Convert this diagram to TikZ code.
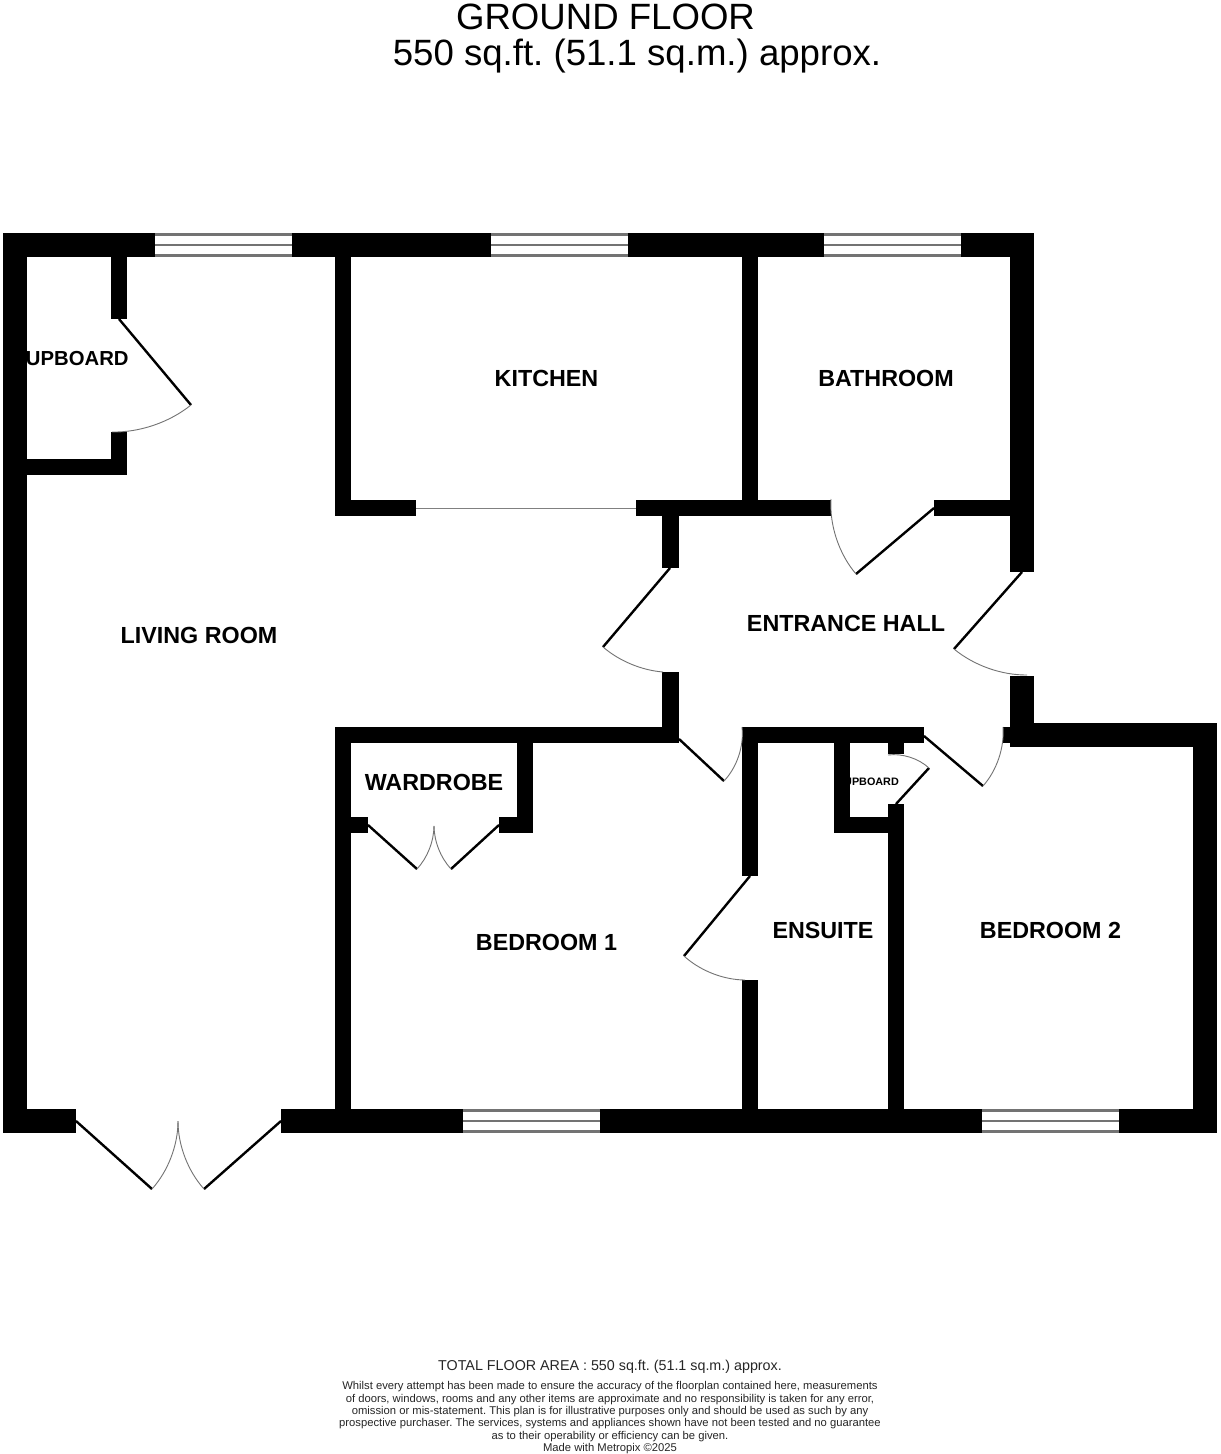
\documentclass[tikz,border=0pt]{standalone}
\usepackage{fontspec}
\setmainfont{Liberation Sans}
\frenchspacing
\tikzset{
  room/.style={inner sep=0pt,anchor=base,font=\fontsize{23.3}{23.2}\selectfont\bfseries,text=black},
  closetroom/.style={inner sep=0pt,anchor=base east,font=\fontsize{20.3}{20}\selectfont\bfseries,text=black},
  smallroom/.style={inner sep=0pt,anchor=base east,font=\fontsize{10.8}{11}\selectfont\bfseries,text=black},
  titletext/.style={inner sep=0pt,anchor=base,font=\fontsize{36.6}{37}\selectfont,text=black},
  areatext/.style={inner sep=0pt,anchor=base,font=\fontsize{14.3}{15}\selectfont,text=black!85},
  finetext/.style={inner sep=0pt,anchor=base,font=\fontsize{11.25}{12}\selectfont,text=black!85},
  wall/.style={fill=black,draw=none},
  leaf/.style={draw=black,line width=2.4pt},
  swing/.style={draw=black!55,line width=0.9pt,looseness=0.85},
  pane/.style={draw=black!55,line width=2.6pt},
  sliding/.style={draw=black!50,line width=1pt}
}
\newcommand{\wallrect}[4]{\fill[wall] (#1,#2) rectangle (#3,#4);}
\newcommand{\glazing}[2]{%
  \fill[white] (#1,233) rectangle (#2,257);
  \draw[pane] (#1,234.3) -- (#2,234.3) (#1,245) -- (#2,245) (#1,255.7) -- (#2,255.7);}
\newcommand{\glazingb}[2]{%
  \fill[white] (#1,1109) rectangle (#2,1133);
  \draw[pane] (#1,1110.3) -- (#2,1110.3) (#1,1121) -- (#2,1121) (#1,1131.7) -- (#2,1131.7);}
\begin{document}
\begin{tikzpicture}[x=1pt,y=-1pt]
\useasboundingbox (0,0) rectangle (1221,1454);
\fill[white] (0,0) rectangle (1221,1454);
% titles
\node[titletext] (title1) at (605.5,29) {GROUND FLOOR};
\node[titletext] (title2) at (637,65) {550 sq.ft. (51.1 sq.m.) approx.};
% room labels (under the walls, which clip them as in the plan)
\node[room] (living) at (199,643) {LIVING ROOM};
\node[room] (kitchen) at (546.5,386) {KITCHEN};
\node[room] (bathroom) at (886,386) {BATHROOM};
\node[closetroom] (cupboard) at (128.8,365) {CUPBOARD};
\node[room] (hall) at (846,631) {ENTRANCE HALL};
\node[room] (wardrobe) at (434,790) {WARDROBE};
\node[room] (bed1) at (546.5,950) {BEDROOM 1};
\node[room] (ensuite) at (823,938) {ENSUITE};
\node[room] (bed2) at (1050.5,938) {BEDROOM 2};
\node[smallroom] (cupboard2) at (899,785) {CUPBOARD};
% walls
\wallrect{3}{233}{1034}{257}
\wallrect{3}{233}{27}{1133}
\wallrect{111}{257}{127}{319}
\wallrect{111}{432}{127}{475}
\wallrect{27}{459}{127}{475}
\wallrect{335}{257}{351}{516}
\wallrect{335}{500}{416}{516}
\wallrect{636}{500}{831}{516}
\wallrect{742}{257}{758}{516}
\wallrect{934}{500}{1034}{516}
\wallrect{1010}{233}{1034}{572}
\wallrect{1010}{676}{1034}{747}
\wallrect{1003}{727}{1034}{743}
\wallrect{1010}{723}{1217}{747}
\wallrect{1193}{723}{1217}{1133}
\wallrect{662}{516}{679}{568}
\wallrect{662}{672}{679}{743}
\wallrect{335}{727}{679}{743}
\wallrect{335}{727}{351}{1133}
\wallrect{742}{727}{924}{743}
\wallrect{742}{727}{758}{876}
\wallrect{742}{980}{758}{1133}
\wallrect{834}{743}{850}{833}
\wallrect{834}{817}{904}{833}
\wallrect{888}{743}{904}{754}
\wallrect{888}{804}{904}{1133}
\wallrect{517}{743}{533}{833}
\wallrect{499}{817}{533}{833}
\wallrect{351}{817}{368}{833}
\wallrect{3}{1109}{76}{1133}
\wallrect{281}{1109}{1217}{1133}
% windows
\glazing{155}{292}
\glazing{491}{628}
\glazing{824}{961}
\glazingb{463}{600}
\glazingb{982}{1119}
% sliding opening
\draw[sliding] (416,508) -- (636,508);
% doors
\draw[leaf] (119,319) -- (191,405);
\draw[swing] (191,405) to[bend left=20] (112,432);
\draw[leaf] (670,568) -- (603,647);
\draw[swing] (603,647) to[bend right=18] (663,672);
\draw[leaf] (1022,572) -- (954,649);
\draw[swing] (954,649) to[bend right=20] (1027,675);
\draw[leaf] (934,508) -- (856,574);
\draw[swing] (856,574) to[bend left=22] (831,499);
\draw[leaf] (679,739) -- (724,781);
\draw[swing] (724,781) to[bend right=25] (742,727);
\draw[leaf] (924,736) -- (983,786);
\draw[swing] (983,786) to[bend right=23] (1003,727);
\draw[leaf] (896,804) -- (929,768);
\draw[swing] (929,768) to[bend right=25] (888,755);
\draw[leaf] (750,876) -- (684,956);
\draw[swing] (684,956) to[bend right=21] (745,980);
\draw[leaf] (368,825) -- (417,869);
\draw[swing] (417,869) to[bend right=21] (434,826);
\draw[leaf] (499,825) -- (451,869);
\draw[swing] (451,869) to[bend left=21] (434,826);
\draw[leaf] (76,1121) -- (152,1189);
\draw[swing] (152,1189) to[bend right=21] (178,1121);
\draw[leaf] (281,1121) -- (204,1189);
\draw[swing] (204,1189) to[bend left=21] (178,1121);
% footer
\node[areatext] (area) at (610,1370) {TOTAL FLOOR AREA : 550 sq.ft. (51.1 sq.m.) approx.};
\node[finetext] (f1) at (610,1389) {Whilst every attempt has been made to ensure the accuracy of the floorplan contained here, measurements};
\node[finetext] (f2) at (610,1402) {of doors, windows, rooms and any other items are approximate and no responsibility is taken for any error,};
\node[finetext] (f3) at (610,1414) {omission or mis-statement. This plan is for illustrative purposes only and should be used as such by any};
\node[finetext] (f4) at (610,1426) {prospective purchaser. The services, systems and appliances shown have not been tested and no guarantee};
\node[finetext] (f5) at (610,1439) {as to their operability or efficiency can be given.};
\node[finetext] (f6) at (610,1451) {Made with Metropix ©2025};
\end{tikzpicture}
\end{document}
